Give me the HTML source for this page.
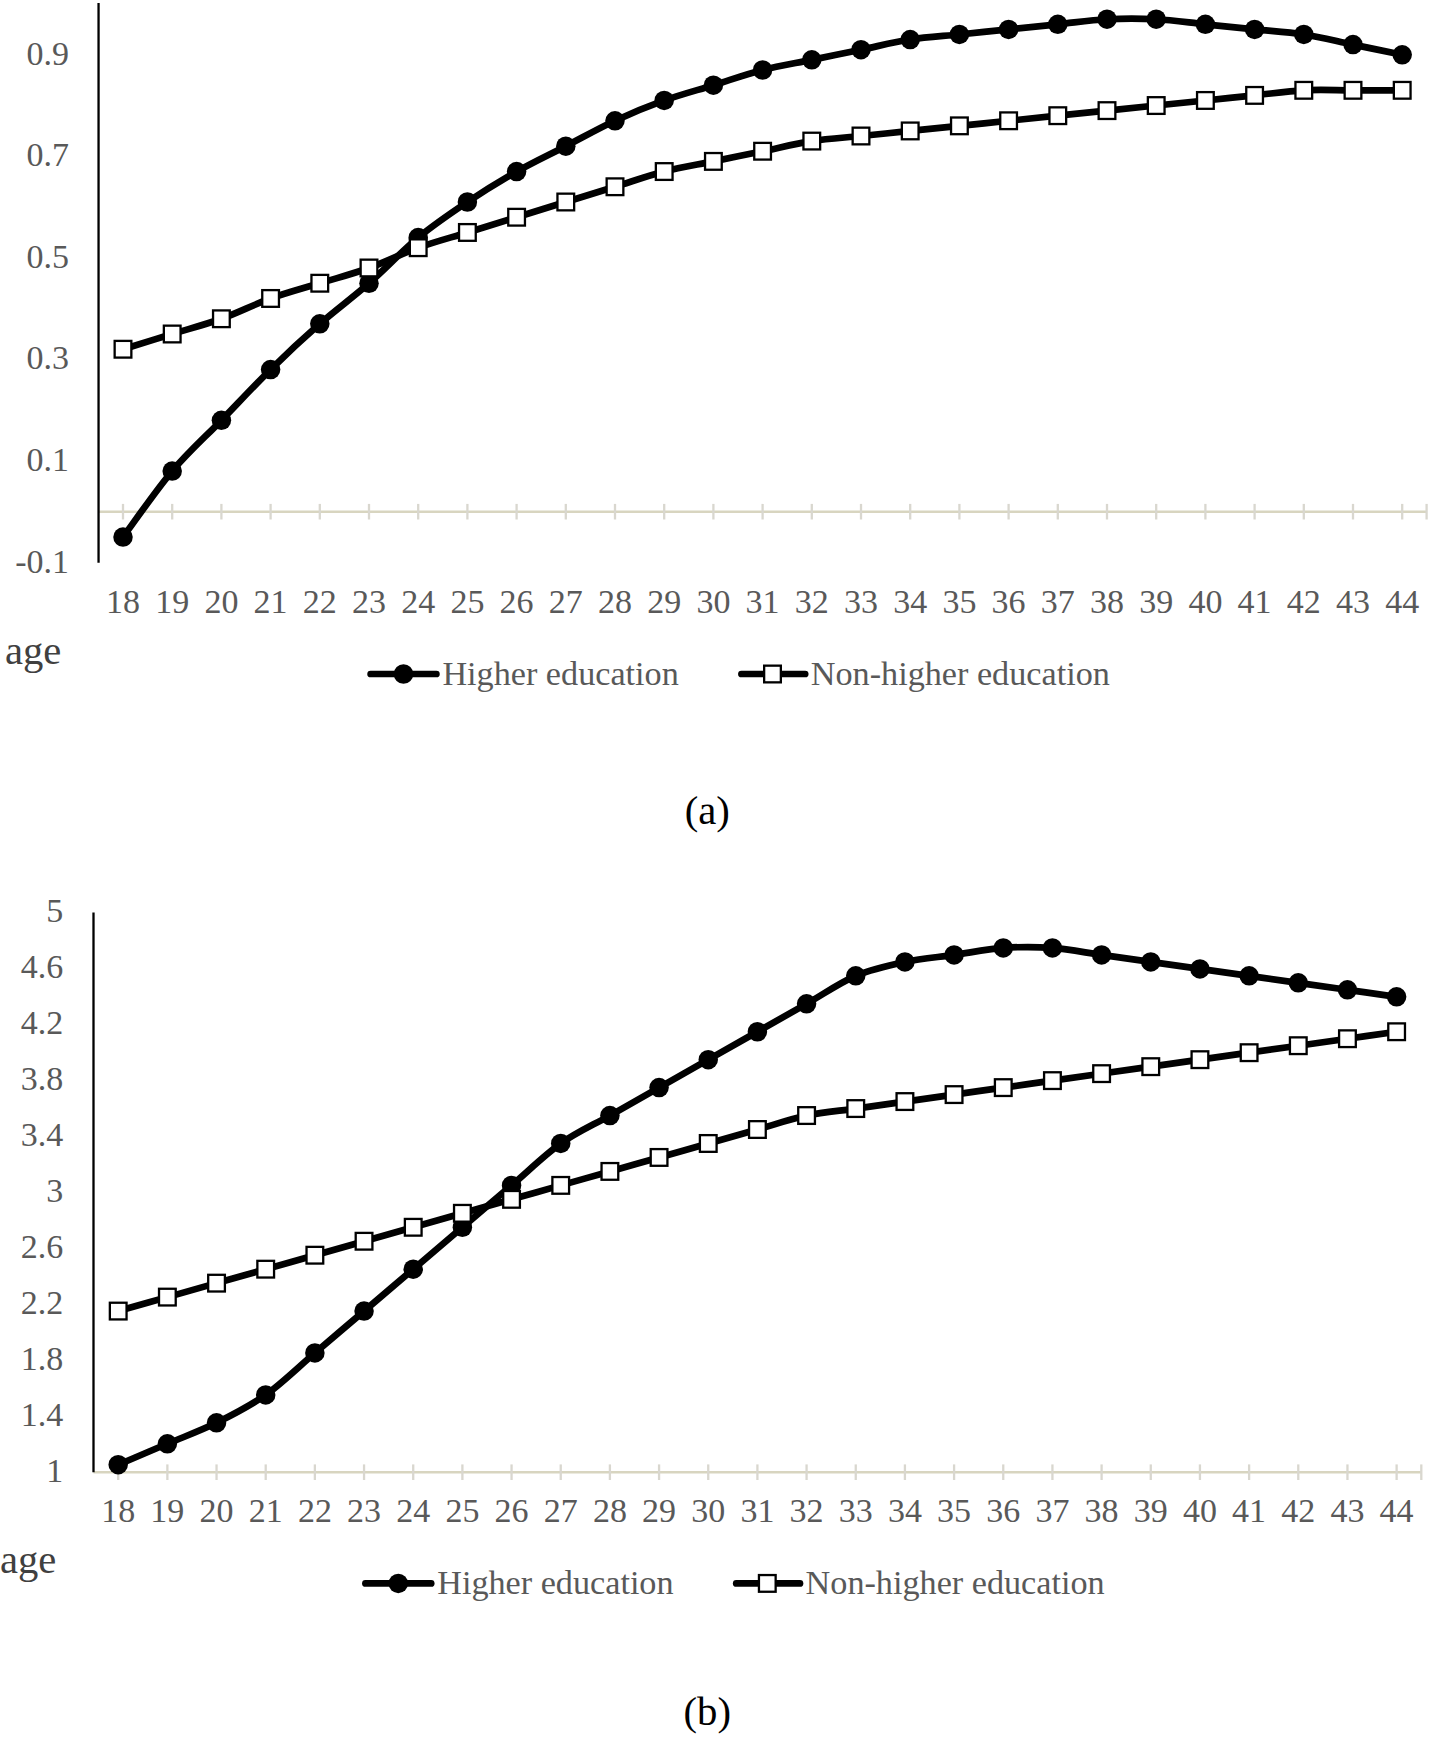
<!DOCTYPE html>
<html><head><meta charset="utf-8"><style>
html,body{margin:0;padding:0;background:#fff;}
body{width:1429px;height:1737px;overflow:hidden;}
svg{display:block;}
.t{font-family:"Liberation Serif",serif;font-size:34px;fill:#595959;}
.lg{font-family:"Liberation Serif",serif;font-size:34.2px;fill:#595959;}
.age{font-family:"Liberation Serif",serif;font-size:40.6px;fill:#404040;}
.cap{font-family:"Liberation Serif",serif;font-size:40.7px;fill:#000;}
</style></head><body>
<svg width="1429" height="1737" viewBox="0 0 1429 1737">
<rect width="1429" height="1737" fill="#fff"/>
<line x1="98.55" y1="511.7" x2="1426.6" y2="511.7" stroke="#d8d5c0" stroke-width="2.4"/>
<line x1="123.00" y1="503.9" x2="123.00" y2="519.5" stroke="#d9d7cf" stroke-width="2.3"/>
<line x1="172.20" y1="503.9" x2="172.20" y2="519.5" stroke="#d9d7cf" stroke-width="2.3"/>
<line x1="221.40" y1="503.9" x2="221.40" y2="519.5" stroke="#d9d7cf" stroke-width="2.3"/>
<line x1="270.60" y1="503.9" x2="270.60" y2="519.5" stroke="#d9d7cf" stroke-width="2.3"/>
<line x1="319.80" y1="503.9" x2="319.80" y2="519.5" stroke="#d9d7cf" stroke-width="2.3"/>
<line x1="369.00" y1="503.9" x2="369.00" y2="519.5" stroke="#d9d7cf" stroke-width="2.3"/>
<line x1="418.20" y1="503.9" x2="418.20" y2="519.5" stroke="#d9d7cf" stroke-width="2.3"/>
<line x1="467.40" y1="503.9" x2="467.40" y2="519.5" stroke="#d9d7cf" stroke-width="2.3"/>
<line x1="516.60" y1="503.9" x2="516.60" y2="519.5" stroke="#d9d7cf" stroke-width="2.3"/>
<line x1="565.80" y1="503.9" x2="565.80" y2="519.5" stroke="#d9d7cf" stroke-width="2.3"/>
<line x1="615.00" y1="503.9" x2="615.00" y2="519.5" stroke="#d9d7cf" stroke-width="2.3"/>
<line x1="664.20" y1="503.9" x2="664.20" y2="519.5" stroke="#d9d7cf" stroke-width="2.3"/>
<line x1="713.40" y1="503.9" x2="713.40" y2="519.5" stroke="#d9d7cf" stroke-width="2.3"/>
<line x1="762.60" y1="503.9" x2="762.60" y2="519.5" stroke="#d9d7cf" stroke-width="2.3"/>
<line x1="811.80" y1="503.9" x2="811.80" y2="519.5" stroke="#d9d7cf" stroke-width="2.3"/>
<line x1="861.00" y1="503.9" x2="861.00" y2="519.5" stroke="#d9d7cf" stroke-width="2.3"/>
<line x1="910.20" y1="503.9" x2="910.20" y2="519.5" stroke="#d9d7cf" stroke-width="2.3"/>
<line x1="959.40" y1="503.9" x2="959.40" y2="519.5" stroke="#d9d7cf" stroke-width="2.3"/>
<line x1="1008.60" y1="503.9" x2="1008.60" y2="519.5" stroke="#d9d7cf" stroke-width="2.3"/>
<line x1="1057.80" y1="503.9" x2="1057.80" y2="519.5" stroke="#d9d7cf" stroke-width="2.3"/>
<line x1="1107.00" y1="503.9" x2="1107.00" y2="519.5" stroke="#d9d7cf" stroke-width="2.3"/>
<line x1="1156.20" y1="503.9" x2="1156.20" y2="519.5" stroke="#d9d7cf" stroke-width="2.3"/>
<line x1="1205.40" y1="503.9" x2="1205.40" y2="519.5" stroke="#d9d7cf" stroke-width="2.3"/>
<line x1="1254.60" y1="503.9" x2="1254.60" y2="519.5" stroke="#d9d7cf" stroke-width="2.3"/>
<line x1="1303.80" y1="503.9" x2="1303.80" y2="519.5" stroke="#d9d7cf" stroke-width="2.3"/>
<line x1="1353.00" y1="503.9" x2="1353.00" y2="519.5" stroke="#d9d7cf" stroke-width="2.3"/>
<line x1="1402.20" y1="503.9" x2="1402.20" y2="519.5" stroke="#d9d7cf" stroke-width="2.3"/>
<line x1="1426.60" y1="503.9" x2="1426.60" y2="519.5" stroke="#d9d7cf" stroke-width="2.3"/>
<line x1="98.55" y1="3.1" x2="98.55" y2="562.8" stroke="#000" stroke-width="2.3"/>
<text x="69.1" y="64.87" text-anchor="end" class="t">0.9</text>
<text x="69.1" y="166.41" text-anchor="end" class="t">0.7</text>
<text x="69.1" y="267.95" text-anchor="end" class="t">0.5</text>
<text x="69.1" y="369.49" text-anchor="end" class="t">0.3</text>
<text x="69.1" y="471.03" text-anchor="end" class="t">0.1</text>
<text x="69.1" y="572.57" text-anchor="end" class="t">-0.1</text>
<text x="123.00" y="613.2" text-anchor="middle" class="t">18</text>
<text x="172.20" y="613.2" text-anchor="middle" class="t">19</text>
<text x="221.40" y="613.2" text-anchor="middle" class="t">20</text>
<text x="270.60" y="613.2" text-anchor="middle" class="t">21</text>
<text x="319.80" y="613.2" text-anchor="middle" class="t">22</text>
<text x="369.00" y="613.2" text-anchor="middle" class="t">23</text>
<text x="418.20" y="613.2" text-anchor="middle" class="t">24</text>
<text x="467.40" y="613.2" text-anchor="middle" class="t">25</text>
<text x="516.60" y="613.2" text-anchor="middle" class="t">26</text>
<text x="565.80" y="613.2" text-anchor="middle" class="t">27</text>
<text x="615.00" y="613.2" text-anchor="middle" class="t">28</text>
<text x="664.20" y="613.2" text-anchor="middle" class="t">29</text>
<text x="713.40" y="613.2" text-anchor="middle" class="t">30</text>
<text x="762.60" y="613.2" text-anchor="middle" class="t">31</text>
<text x="811.80" y="613.2" text-anchor="middle" class="t">32</text>
<text x="861.00" y="613.2" text-anchor="middle" class="t">33</text>
<text x="910.20" y="613.2" text-anchor="middle" class="t">34</text>
<text x="959.40" y="613.2" text-anchor="middle" class="t">35</text>
<text x="1008.60" y="613.2" text-anchor="middle" class="t">36</text>
<text x="1057.80" y="613.2" text-anchor="middle" class="t">37</text>
<text x="1107.00" y="613.2" text-anchor="middle" class="t">38</text>
<text x="1156.20" y="613.2" text-anchor="middle" class="t">39</text>
<text x="1205.40" y="613.2" text-anchor="middle" class="t">40</text>
<text x="1254.60" y="613.2" text-anchor="middle" class="t">41</text>
<text x="1303.80" y="613.2" text-anchor="middle" class="t">42</text>
<text x="1353.00" y="613.2" text-anchor="middle" class="t">43</text>
<text x="1402.20" y="613.2" text-anchor="middle" class="t">44</text>
<path d="M123.00,537.09 C131.20,526.08 155.80,490.55 172.20,471.08 C188.60,451.62 205.00,437.24 221.40,420.31 C237.80,403.39 254.20,385.62 270.60,369.54 C287.00,353.47 303.40,338.24 319.80,323.85 C336.20,309.47 352.60,297.62 369.00,283.24 C385.40,268.85 401.80,251.08 418.20,237.54 C434.60,224.00 451.00,213.00 467.40,202.00 C483.80,191.00 500.20,180.85 516.60,171.54 C533.00,162.23 549.40,154.62 565.80,146.16 C582.20,137.69 598.60,128.39 615.00,120.77 C631.40,113.16 647.80,106.39 664.20,100.46 C680.60,94.54 697.00,90.31 713.40,85.23 C729.80,80.16 746.20,74.23 762.60,70.00 C779.00,65.77 795.40,63.23 811.80,59.85 C828.20,56.46 844.60,53.08 861.00,49.69 C877.40,46.31 893.80,42.08 910.20,39.54 C926.60,37.00 943.00,36.15 959.40,34.46 C975.80,32.77 992.20,31.08 1008.60,29.39 C1025.00,27.69 1041.40,26.00 1057.80,24.31 C1074.20,22.62 1090.60,20.08 1107.00,19.23 C1123.40,18.38 1139.80,18.38 1156.20,19.23 C1172.60,20.08 1189.00,22.62 1205.40,24.31 C1221.80,26.00 1238.20,27.69 1254.60,29.39 C1271.00,31.08 1287.40,31.92 1303.80,34.46 C1320.20,37.00 1336.60,41.23 1353.00,44.62 C1369.40,48.00 1394.00,53.08 1402.20,54.77" fill="none" stroke="#000" stroke-width="6.7" stroke-linejoin="round"/>
<circle cx="123.00" cy="537.09" r="9.75" fill="#000"/>
<circle cx="172.20" cy="471.08" r="9.75" fill="#000"/>
<circle cx="221.40" cy="420.31" r="9.75" fill="#000"/>
<circle cx="270.60" cy="369.54" r="9.75" fill="#000"/>
<circle cx="319.80" cy="323.85" r="9.75" fill="#000"/>
<circle cx="369.00" cy="283.24" r="9.75" fill="#000"/>
<circle cx="418.20" cy="237.54" r="9.75" fill="#000"/>
<circle cx="467.40" cy="202.00" r="9.75" fill="#000"/>
<circle cx="516.60" cy="171.54" r="9.75" fill="#000"/>
<circle cx="565.80" cy="146.16" r="9.75" fill="#000"/>
<circle cx="615.00" cy="120.77" r="9.75" fill="#000"/>
<circle cx="664.20" cy="100.46" r="9.75" fill="#000"/>
<circle cx="713.40" cy="85.23" r="9.75" fill="#000"/>
<circle cx="762.60" cy="70.00" r="9.75" fill="#000"/>
<circle cx="811.80" cy="59.85" r="9.75" fill="#000"/>
<circle cx="861.00" cy="49.69" r="9.75" fill="#000"/>
<circle cx="910.20" cy="39.54" r="9.75" fill="#000"/>
<circle cx="959.40" cy="34.46" r="9.75" fill="#000"/>
<circle cx="1008.60" cy="29.39" r="9.75" fill="#000"/>
<circle cx="1057.80" cy="24.31" r="9.75" fill="#000"/>
<circle cx="1107.00" cy="19.23" r="9.75" fill="#000"/>
<circle cx="1156.20" cy="19.23" r="9.75" fill="#000"/>
<circle cx="1205.40" cy="24.31" r="9.75" fill="#000"/>
<circle cx="1254.60" cy="29.39" r="9.75" fill="#000"/>
<circle cx="1303.80" cy="34.46" r="9.75" fill="#000"/>
<circle cx="1353.00" cy="44.62" r="9.75" fill="#000"/>
<circle cx="1402.20" cy="54.77" r="9.75" fill="#000"/>
<path d="M123.00,349.24 C131.20,346.70 155.80,339.08 172.20,334.00 C188.60,328.93 205.00,324.70 221.40,318.77 C237.80,312.85 254.20,304.39 270.60,298.47 C287.00,292.54 303.40,288.31 319.80,283.24 C336.20,278.16 352.60,273.93 369.00,268.00 C385.40,262.08 401.80,253.62 418.20,247.70 C434.60,241.77 451.00,237.54 467.40,232.46 C483.80,227.39 500.20,222.31 516.60,217.23 C533.00,212.16 549.40,207.08 565.80,202.00 C582.20,196.93 598.60,191.85 615.00,186.77 C631.40,181.69 647.80,175.77 664.20,171.54 C680.60,167.31 697.00,164.77 713.40,161.39 C729.80,158.00 746.20,154.62 762.60,151.23 C779.00,147.85 795.40,143.62 811.80,141.08 C828.20,138.54 844.60,137.69 861.00,136.00 C877.40,134.31 893.80,132.62 910.20,130.93 C926.60,129.23 943.00,127.54 959.40,125.85 C975.80,124.16 992.20,122.46 1008.60,120.77 C1025.00,119.08 1041.40,117.39 1057.80,115.69 C1074.20,114.00 1090.60,112.31 1107.00,110.62 C1123.40,108.92 1139.80,107.23 1156.20,105.54 C1172.60,103.85 1189.00,102.16 1205.40,100.46 C1221.80,98.77 1238.20,97.08 1254.60,95.39 C1271.00,93.69 1287.40,91.16 1303.80,90.31 C1320.20,89.46 1336.60,90.31 1353.00,90.31 C1369.40,90.31 1394.00,90.31 1402.20,90.31" fill="none" stroke="#000" stroke-width="6.7" stroke-linejoin="round"/>
<rect x="114.65" y="340.89" width="16.70" height="16.70" fill="#fff" stroke="#000" stroke-width="2.3"/>
<rect x="163.85" y="325.65" width="16.70" height="16.70" fill="#fff" stroke="#000" stroke-width="2.3"/>
<rect x="213.05" y="310.42" width="16.70" height="16.70" fill="#fff" stroke="#000" stroke-width="2.3"/>
<rect x="262.25" y="290.12" width="16.70" height="16.70" fill="#fff" stroke="#000" stroke-width="2.3"/>
<rect x="311.45" y="274.88" width="16.70" height="16.70" fill="#fff" stroke="#000" stroke-width="2.3"/>
<rect x="360.65" y="259.65" width="16.70" height="16.70" fill="#fff" stroke="#000" stroke-width="2.3"/>
<rect x="409.85" y="239.35" width="16.70" height="16.70" fill="#fff" stroke="#000" stroke-width="2.3"/>
<rect x="459.05" y="224.11" width="16.70" height="16.70" fill="#fff" stroke="#000" stroke-width="2.3"/>
<rect x="508.25" y="208.88" width="16.70" height="16.70" fill="#fff" stroke="#000" stroke-width="2.3"/>
<rect x="557.45" y="193.65" width="16.70" height="16.70" fill="#fff" stroke="#000" stroke-width="2.3"/>
<rect x="606.65" y="178.42" width="16.70" height="16.70" fill="#fff" stroke="#000" stroke-width="2.3"/>
<rect x="655.85" y="163.19" width="16.70" height="16.70" fill="#fff" stroke="#000" stroke-width="2.3"/>
<rect x="705.05" y="153.04" width="16.70" height="16.70" fill="#fff" stroke="#000" stroke-width="2.3"/>
<rect x="754.25" y="142.88" width="16.70" height="16.70" fill="#fff" stroke="#000" stroke-width="2.3"/>
<rect x="803.45" y="132.73" width="16.70" height="16.70" fill="#fff" stroke="#000" stroke-width="2.3"/>
<rect x="852.65" y="127.65" width="16.70" height="16.70" fill="#fff" stroke="#000" stroke-width="2.3"/>
<rect x="901.85" y="122.58" width="16.70" height="16.70" fill="#fff" stroke="#000" stroke-width="2.3"/>
<rect x="951.05" y="117.50" width="16.70" height="16.70" fill="#fff" stroke="#000" stroke-width="2.3"/>
<rect x="1000.25" y="112.42" width="16.70" height="16.70" fill="#fff" stroke="#000" stroke-width="2.3"/>
<rect x="1049.45" y="107.34" width="16.70" height="16.70" fill="#fff" stroke="#000" stroke-width="2.3"/>
<rect x="1098.65" y="102.27" width="16.70" height="16.70" fill="#fff" stroke="#000" stroke-width="2.3"/>
<rect x="1147.85" y="97.19" width="16.70" height="16.70" fill="#fff" stroke="#000" stroke-width="2.3"/>
<rect x="1197.05" y="92.11" width="16.70" height="16.70" fill="#fff" stroke="#000" stroke-width="2.3"/>
<rect x="1246.25" y="87.04" width="16.70" height="16.70" fill="#fff" stroke="#000" stroke-width="2.3"/>
<rect x="1295.45" y="81.96" width="16.70" height="16.70" fill="#fff" stroke="#000" stroke-width="2.3"/>
<rect x="1344.65" y="81.96" width="16.70" height="16.70" fill="#fff" stroke="#000" stroke-width="2.3"/>
<rect x="1393.85" y="81.96" width="16.70" height="16.70" fill="#fff" stroke="#000" stroke-width="2.3"/>
<text x="5.0" y="663.7" class="age">age</text>
<line x1="370.6" y1="674.0" x2="436.4" y2="674.0" stroke="#000" stroke-width="6.7" stroke-linecap="round"/>
<circle cx="403.5" cy="674.0" r="9.75" fill="#000"/>
<text x="442.4" y="684.6" class="lg">Higher education</text>
<line x1="741.4" y1="674.0" x2="805.2" y2="674.0" stroke="#000" stroke-width="6.7" stroke-linecap="round"/>
<rect x="764.15" y="665.65" width="16.70" height="16.70" fill="#fff" stroke="#000" stroke-width="2.3"/>
<text x="810.8" y="684.6" class="lg">Non-higher education</text>
<line x1="93.5" y1="1472.2" x2="1421.3" y2="1472.2" stroke="#d8d5c0" stroke-width="2.4"/>
<line x1="118.20" y1="1464.4" x2="118.20" y2="1480.0" stroke="#d9d7cf" stroke-width="2.3"/>
<line x1="167.37" y1="1464.4" x2="167.37" y2="1480.0" stroke="#d9d7cf" stroke-width="2.3"/>
<line x1="216.54" y1="1464.4" x2="216.54" y2="1480.0" stroke="#d9d7cf" stroke-width="2.3"/>
<line x1="265.71" y1="1464.4" x2="265.71" y2="1480.0" stroke="#d9d7cf" stroke-width="2.3"/>
<line x1="314.88" y1="1464.4" x2="314.88" y2="1480.0" stroke="#d9d7cf" stroke-width="2.3"/>
<line x1="364.05" y1="1464.4" x2="364.05" y2="1480.0" stroke="#d9d7cf" stroke-width="2.3"/>
<line x1="413.22" y1="1464.4" x2="413.22" y2="1480.0" stroke="#d9d7cf" stroke-width="2.3"/>
<line x1="462.39" y1="1464.4" x2="462.39" y2="1480.0" stroke="#d9d7cf" stroke-width="2.3"/>
<line x1="511.56" y1="1464.4" x2="511.56" y2="1480.0" stroke="#d9d7cf" stroke-width="2.3"/>
<line x1="560.73" y1="1464.4" x2="560.73" y2="1480.0" stroke="#d9d7cf" stroke-width="2.3"/>
<line x1="609.90" y1="1464.4" x2="609.90" y2="1480.0" stroke="#d9d7cf" stroke-width="2.3"/>
<line x1="659.07" y1="1464.4" x2="659.07" y2="1480.0" stroke="#d9d7cf" stroke-width="2.3"/>
<line x1="708.24" y1="1464.4" x2="708.24" y2="1480.0" stroke="#d9d7cf" stroke-width="2.3"/>
<line x1="757.41" y1="1464.4" x2="757.41" y2="1480.0" stroke="#d9d7cf" stroke-width="2.3"/>
<line x1="806.58" y1="1464.4" x2="806.58" y2="1480.0" stroke="#d9d7cf" stroke-width="2.3"/>
<line x1="855.75" y1="1464.4" x2="855.75" y2="1480.0" stroke="#d9d7cf" stroke-width="2.3"/>
<line x1="904.92" y1="1464.4" x2="904.92" y2="1480.0" stroke="#d9d7cf" stroke-width="2.3"/>
<line x1="954.09" y1="1464.4" x2="954.09" y2="1480.0" stroke="#d9d7cf" stroke-width="2.3"/>
<line x1="1003.26" y1="1464.4" x2="1003.26" y2="1480.0" stroke="#d9d7cf" stroke-width="2.3"/>
<line x1="1052.43" y1="1464.4" x2="1052.43" y2="1480.0" stroke="#d9d7cf" stroke-width="2.3"/>
<line x1="1101.60" y1="1464.4" x2="1101.60" y2="1480.0" stroke="#d9d7cf" stroke-width="2.3"/>
<line x1="1150.77" y1="1464.4" x2="1150.77" y2="1480.0" stroke="#d9d7cf" stroke-width="2.3"/>
<line x1="1199.94" y1="1464.4" x2="1199.94" y2="1480.0" stroke="#d9d7cf" stroke-width="2.3"/>
<line x1="1249.11" y1="1464.4" x2="1249.11" y2="1480.0" stroke="#d9d7cf" stroke-width="2.3"/>
<line x1="1298.28" y1="1464.4" x2="1298.28" y2="1480.0" stroke="#d9d7cf" stroke-width="2.3"/>
<line x1="1347.45" y1="1464.4" x2="1347.45" y2="1480.0" stroke="#d9d7cf" stroke-width="2.3"/>
<line x1="1396.62" y1="1464.4" x2="1396.62" y2="1480.0" stroke="#d9d7cf" stroke-width="2.3"/>
<line x1="1421.30" y1="1464.4" x2="1421.30" y2="1480.0" stroke="#d9d7cf" stroke-width="2.3"/>
<line x1="93.5" y1="912.6" x2="93.5" y2="1472.2" stroke="#000" stroke-width="2.3"/>
<text x="63.3" y="922.30" text-anchor="end" class="t">5</text>
<text x="63.3" y="978.30" text-anchor="end" class="t">4.6</text>
<text x="63.3" y="1034.30" text-anchor="end" class="t">4.2</text>
<text x="63.3" y="1090.30" text-anchor="end" class="t">3.8</text>
<text x="63.3" y="1146.30" text-anchor="end" class="t">3.4</text>
<text x="63.3" y="1202.30" text-anchor="end" class="t">3</text>
<text x="63.3" y="1258.30" text-anchor="end" class="t">2.6</text>
<text x="63.3" y="1314.30" text-anchor="end" class="t">2.2</text>
<text x="63.3" y="1370.30" text-anchor="end" class="t">1.8</text>
<text x="63.3" y="1426.30" text-anchor="end" class="t">1.4</text>
<text x="63.3" y="1482.30" text-anchor="end" class="t">1</text>
<text x="118.20" y="1521.5" text-anchor="middle" class="t">18</text>
<text x="167.37" y="1521.5" text-anchor="middle" class="t">19</text>
<text x="216.54" y="1521.5" text-anchor="middle" class="t">20</text>
<text x="265.71" y="1521.5" text-anchor="middle" class="t">21</text>
<text x="314.88" y="1521.5" text-anchor="middle" class="t">22</text>
<text x="364.05" y="1521.5" text-anchor="middle" class="t">23</text>
<text x="413.22" y="1521.5" text-anchor="middle" class="t">24</text>
<text x="462.39" y="1521.5" text-anchor="middle" class="t">25</text>
<text x="511.56" y="1521.5" text-anchor="middle" class="t">26</text>
<text x="560.73" y="1521.5" text-anchor="middle" class="t">27</text>
<text x="609.90" y="1521.5" text-anchor="middle" class="t">28</text>
<text x="659.07" y="1521.5" text-anchor="middle" class="t">29</text>
<text x="708.24" y="1521.5" text-anchor="middle" class="t">30</text>
<text x="757.41" y="1521.5" text-anchor="middle" class="t">31</text>
<text x="806.58" y="1521.5" text-anchor="middle" class="t">32</text>
<text x="855.75" y="1521.5" text-anchor="middle" class="t">33</text>
<text x="904.92" y="1521.5" text-anchor="middle" class="t">34</text>
<text x="954.09" y="1521.5" text-anchor="middle" class="t">35</text>
<text x="1003.26" y="1521.5" text-anchor="middle" class="t">36</text>
<text x="1052.43" y="1521.5" text-anchor="middle" class="t">37</text>
<text x="1101.60" y="1521.5" text-anchor="middle" class="t">38</text>
<text x="1150.77" y="1521.5" text-anchor="middle" class="t">39</text>
<text x="1199.94" y="1521.5" text-anchor="middle" class="t">40</text>
<text x="1249.11" y="1521.5" text-anchor="middle" class="t">41</text>
<text x="1298.28" y="1521.5" text-anchor="middle" class="t">42</text>
<text x="1347.45" y="1521.5" text-anchor="middle" class="t">43</text>
<text x="1396.62" y="1521.5" text-anchor="middle" class="t">44</text>
<path d="M118.20,1464.72 C126.40,1461.22 150.98,1450.75 167.37,1443.77 C183.76,1436.78 200.15,1430.96 216.54,1422.82 C232.93,1414.67 249.32,1406.52 265.71,1394.88 C282.10,1383.24 298.49,1366.95 314.88,1352.98 C331.27,1339.01 347.66,1325.05 364.05,1311.08 C380.44,1297.11 396.83,1283.15 413.22,1269.18 C429.61,1255.21 446.00,1241.24 462.39,1227.28 C478.78,1213.31 495.17,1199.34 511.56,1185.38 C527.95,1171.41 544.34,1155.11 560.73,1143.48 C577.12,1131.84 593.51,1124.85 609.90,1115.54 C626.29,1106.23 642.68,1096.92 659.07,1087.61 C675.46,1078.30 691.85,1068.98 708.24,1059.67 C724.63,1050.36 741.02,1041.05 757.41,1031.74 C773.80,1022.43 790.19,1013.12 806.58,1003.81 C822.97,994.49 839.36,982.86 855.75,975.87 C872.14,968.89 888.53,965.40 904.92,961.90 C921.31,958.41 937.70,957.25 954.09,954.92 C970.48,952.59 986.87,949.10 1003.26,947.94 C1019.65,946.77 1036.04,946.77 1052.43,947.94 C1068.82,949.10 1085.21,952.59 1101.60,954.92 C1117.99,957.25 1134.38,959.58 1150.77,961.90 C1167.16,964.23 1183.55,966.56 1199.94,968.89 C1216.33,971.22 1232.72,973.54 1249.11,975.87 C1265.50,978.20 1281.89,980.53 1298.28,982.86 C1314.67,985.18 1331.06,987.51 1347.45,989.84 C1363.84,992.17 1388.43,995.66 1396.62,996.82" fill="none" stroke="#000" stroke-width="6.7" stroke-linejoin="round"/>
<circle cx="118.20" cy="1464.72" r="9.75" fill="#000"/>
<circle cx="167.37" cy="1443.77" r="9.75" fill="#000"/>
<circle cx="216.54" cy="1422.82" r="9.75" fill="#000"/>
<circle cx="265.71" cy="1394.88" r="9.75" fill="#000"/>
<circle cx="314.88" cy="1352.98" r="9.75" fill="#000"/>
<circle cx="364.05" cy="1311.08" r="9.75" fill="#000"/>
<circle cx="413.22" cy="1269.18" r="9.75" fill="#000"/>
<circle cx="462.39" cy="1227.28" r="9.75" fill="#000"/>
<circle cx="511.56" cy="1185.38" r="9.75" fill="#000"/>
<circle cx="560.73" cy="1143.48" r="9.75" fill="#000"/>
<circle cx="609.90" cy="1115.54" r="9.75" fill="#000"/>
<circle cx="659.07" cy="1087.61" r="9.75" fill="#000"/>
<circle cx="708.24" cy="1059.67" r="9.75" fill="#000"/>
<circle cx="757.41" cy="1031.74" r="9.75" fill="#000"/>
<circle cx="806.58" cy="1003.81" r="9.75" fill="#000"/>
<circle cx="855.75" cy="975.87" r="9.75" fill="#000"/>
<circle cx="904.92" cy="961.90" r="9.75" fill="#000"/>
<circle cx="954.09" cy="954.92" r="9.75" fill="#000"/>
<circle cx="1003.26" cy="947.94" r="9.75" fill="#000"/>
<circle cx="1052.43" cy="947.94" r="9.75" fill="#000"/>
<circle cx="1101.60" cy="954.92" r="9.75" fill="#000"/>
<circle cx="1150.77" cy="961.90" r="9.75" fill="#000"/>
<circle cx="1199.94" cy="968.89" r="9.75" fill="#000"/>
<circle cx="1249.11" cy="975.87" r="9.75" fill="#000"/>
<circle cx="1298.28" cy="982.86" r="9.75" fill="#000"/>
<circle cx="1347.45" cy="989.84" r="9.75" fill="#000"/>
<circle cx="1396.62" cy="996.82" r="9.75" fill="#000"/>
<path d="M118.20,1311.08 C126.40,1308.75 150.98,1301.77 167.37,1297.11 C183.76,1292.46 200.15,1287.80 216.54,1283.15 C232.93,1278.49 249.32,1273.83 265.71,1269.18 C282.10,1264.52 298.49,1259.87 314.88,1255.21 C331.27,1250.56 347.66,1245.90 364.05,1241.24 C380.44,1236.59 396.83,1231.93 413.22,1227.28 C429.61,1222.62 446.00,1217.97 462.39,1213.31 C478.78,1208.65 495.17,1204.00 511.56,1199.34 C527.95,1194.69 544.34,1190.03 560.73,1185.38 C577.12,1180.72 593.51,1176.07 609.90,1171.41 C626.29,1166.75 642.68,1162.10 659.07,1157.44 C675.46,1152.79 691.85,1148.13 708.24,1143.48 C724.63,1138.82 741.02,1134.16 757.41,1129.51 C773.80,1124.85 790.19,1119.03 806.58,1115.54 C822.97,1112.05 839.36,1110.89 855.75,1108.56 C872.14,1106.23 888.53,1103.90 904.92,1101.57 C921.31,1099.25 937.70,1096.92 954.09,1094.59 C970.48,1092.26 986.87,1089.94 1003.26,1087.61 C1019.65,1085.28 1036.04,1082.95 1052.43,1080.62 C1068.82,1078.30 1085.21,1075.97 1101.60,1073.64 C1117.99,1071.31 1134.38,1068.98 1150.77,1066.66 C1167.16,1064.33 1183.55,1062.00 1199.94,1059.67 C1216.33,1057.35 1232.72,1055.02 1249.11,1052.69 C1265.50,1050.36 1281.89,1048.03 1298.28,1045.71 C1314.67,1043.38 1331.06,1041.05 1347.45,1038.72 C1363.84,1036.40 1388.43,1032.90 1396.62,1031.74" fill="none" stroke="#000" stroke-width="6.7" stroke-linejoin="round"/>
<rect x="109.85" y="1302.73" width="16.70" height="16.70" fill="#fff" stroke="#000" stroke-width="2.3"/>
<rect x="159.02" y="1288.76" width="16.70" height="16.70" fill="#fff" stroke="#000" stroke-width="2.3"/>
<rect x="208.19" y="1274.80" width="16.70" height="16.70" fill="#fff" stroke="#000" stroke-width="2.3"/>
<rect x="257.36" y="1260.83" width="16.70" height="16.70" fill="#fff" stroke="#000" stroke-width="2.3"/>
<rect x="306.53" y="1246.86" width="16.70" height="16.70" fill="#fff" stroke="#000" stroke-width="2.3"/>
<rect x="355.70" y="1232.89" width="16.70" height="16.70" fill="#fff" stroke="#000" stroke-width="2.3"/>
<rect x="404.87" y="1218.93" width="16.70" height="16.70" fill="#fff" stroke="#000" stroke-width="2.3"/>
<rect x="454.04" y="1204.96" width="16.70" height="16.70" fill="#fff" stroke="#000" stroke-width="2.3"/>
<rect x="503.21" y="1190.99" width="16.70" height="16.70" fill="#fff" stroke="#000" stroke-width="2.3"/>
<rect x="552.38" y="1177.03" width="16.70" height="16.70" fill="#fff" stroke="#000" stroke-width="2.3"/>
<rect x="601.55" y="1163.06" width="16.70" height="16.70" fill="#fff" stroke="#000" stroke-width="2.3"/>
<rect x="650.72" y="1149.09" width="16.70" height="16.70" fill="#fff" stroke="#000" stroke-width="2.3"/>
<rect x="699.89" y="1135.13" width="16.70" height="16.70" fill="#fff" stroke="#000" stroke-width="2.3"/>
<rect x="749.06" y="1121.16" width="16.70" height="16.70" fill="#fff" stroke="#000" stroke-width="2.3"/>
<rect x="798.23" y="1107.19" width="16.70" height="16.70" fill="#fff" stroke="#000" stroke-width="2.3"/>
<rect x="847.40" y="1100.21" width="16.70" height="16.70" fill="#fff" stroke="#000" stroke-width="2.3"/>
<rect x="896.57" y="1093.22" width="16.70" height="16.70" fill="#fff" stroke="#000" stroke-width="2.3"/>
<rect x="945.74" y="1086.24" width="16.70" height="16.70" fill="#fff" stroke="#000" stroke-width="2.3"/>
<rect x="994.91" y="1079.26" width="16.70" height="16.70" fill="#fff" stroke="#000" stroke-width="2.3"/>
<rect x="1044.08" y="1072.27" width="16.70" height="16.70" fill="#fff" stroke="#000" stroke-width="2.3"/>
<rect x="1093.25" y="1065.29" width="16.70" height="16.70" fill="#fff" stroke="#000" stroke-width="2.3"/>
<rect x="1142.42" y="1058.31" width="16.70" height="16.70" fill="#fff" stroke="#000" stroke-width="2.3"/>
<rect x="1191.59" y="1051.32" width="16.70" height="16.70" fill="#fff" stroke="#000" stroke-width="2.3"/>
<rect x="1240.76" y="1044.34" width="16.70" height="16.70" fill="#fff" stroke="#000" stroke-width="2.3"/>
<rect x="1289.93" y="1037.36" width="16.70" height="16.70" fill="#fff" stroke="#000" stroke-width="2.3"/>
<rect x="1339.10" y="1030.37" width="16.70" height="16.70" fill="#fff" stroke="#000" stroke-width="2.3"/>
<rect x="1388.27" y="1023.39" width="16.70" height="16.70" fill="#fff" stroke="#000" stroke-width="2.3"/>
<text x="0.0" y="1573.4" class="age">age</text>
<line x1="365.40000000000003" y1="1583.4" x2="431.2" y2="1583.4" stroke="#000" stroke-width="6.7" stroke-linecap="round"/>
<circle cx="398.3" cy="1583.4" r="9.75" fill="#000"/>
<text x="437.2" y="1594.0" class="lg">Higher education</text>
<line x1="736.1999999999999" y1="1583.4" x2="800.0" y2="1583.4" stroke="#000" stroke-width="6.7" stroke-linecap="round"/>
<rect x="758.95" y="1575.05" width="16.70" height="16.70" fill="#fff" stroke="#000" stroke-width="2.3"/>
<text x="805.5999999999999" y="1594.0" class="lg">Non-higher education</text>
<text x="707.3" y="823.7" text-anchor="middle" class="cap">(a)</text>
<text x="707.3" y="1724.7" text-anchor="middle" class="cap">(b)</text>
</svg>
</body></html>
